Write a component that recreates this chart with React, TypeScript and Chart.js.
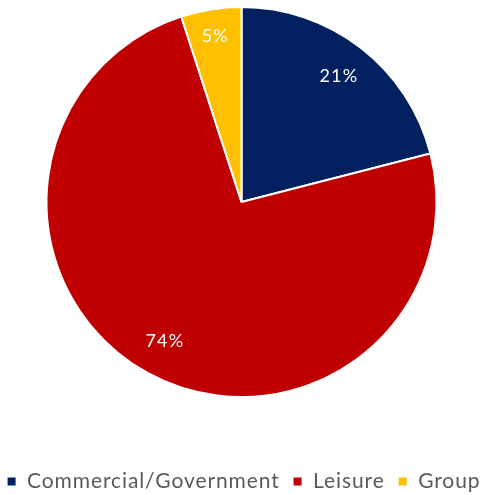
import React, { useEffect, useRef } from "react";
import { Chart, registerables } from "chart.js";

Chart.register(...registerables);

const categories = ["Commercial/Government", "Leisure", "Group"];
const values = [21, 74, 5];
const colors = ["#002060", "#C00000", "#FFC000"];
const labelTexts = ["21%", "74%", "5%"];

const spacingPlugin = {
  id: "letterSpacing",
  beforeLayout(chart: any) {
    chart.ctx.letterSpacing = "0.9px";
    const lg = chart.legend;
    if (lg && !lg.__wide) {
      const origUpdate = lg.update.bind(lg);
      lg.update = (w: number, h: number, m: any) => origUpdate(w + 40, h, m);
      const origDraw = lg._draw.bind(lg);
      lg._draw = () => {
        const l = lg.left;
        const r = lg.right;
        lg.left = l - 28;
        lg.right = r + 32;
        origDraw();
        lg.left = l;
        lg.right = r;
      };
      lg.__wide = true;
    }
  },
  beforeDraw(chart: any) {
    chart.ctx.letterSpacing = "0.9px";
  },
};

const labelPlugin = {
  id: "sliceLabels",
  afterDatasetsDraw(chart: any) {
    const ctx = chart.ctx;
    const meta = chart.getDatasetMeta(0);
    ctx.save();
    ctx.letterSpacing = "1.2px";
    ctx.fillStyle = "#ffffff";
    ctx.font = "18px Lato";
    ctx.textAlign = "center";
    ctx.textBaseline = "middle";
    meta.data.forEach((arc: any, i: number) => {
      const p = arc.getProps(["startAngle", "endAngle", "outerRadius", "x", "y"], true);
      const mid = (p.startAngle + p.endAngle) / 2;
      const f = values[i] < 10 ? 0.86 : 0.815;
      const r = p.outerRadius * f;
      ctx.fillText(labelTexts[i], p.x + Math.cos(mid) * r, p.y + Math.sin(mid) * r);
    });
    ctx.restore();
  },
};

export default function App() {
  const ref = useRef<HTMLCanvasElement | null>(null);
  useEffect(() => {
    if (!ref.current) return;
    const chart = new Chart(ref.current, {
      type: "pie",
      data: {
        labels: categories,
        datasets: [
          {
            data: values,
            backgroundColor: colors,
            borderColor: "#ffffff",
            borderWidth: 2,
          },
        ],
      },
      options: {
        responsive: false,
        animation: false,
        layout: { padding: { left: 0, right: 0, top: 6, bottom: 3 } },
        plugins: {
          tooltip: { enabled: false },
          legend: {
            position: "bottom",
            title: {
              display: true,
              text: " ",
              font: { size: 10 },
              padding: { top: 48, bottom: 0 },
            },
            labels: {
              font: { family: "Lato", size: 21 },
              color: "#595959",
              boxWidth: 10,
              boxHeight: 10,
              padding: 13,
            },
          },
        },
      },
      plugins: [spacingPlugin, labelPlugin],
    });
    return () => chart.destroy();
  }, []);
  return (
    <div
      style={{
        position: "fixed",
        left: 0,
        top: 0,
        width: 483,
        height: 495,
        overflow: "hidden",
        background: "#fff",
      }}
    >
      <canvas ref={ref} width={483} height={505} style={{ width: 483, height: 505, display: "block" }} />
    </div>
  );
}
